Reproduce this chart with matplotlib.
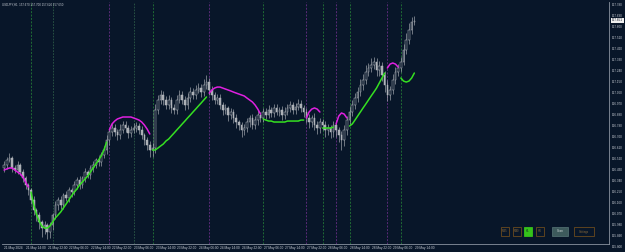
import numpy as np
import matplotlib
matplotlib.use("Agg")
import matplotlib.pyplot as plt
from matplotlib.patches import Rectangle

plt.rcParams["font.family"] = ["Liberation Sans", "DejaVu Sans"]

W, H = 625, 252
BG = "#081629"

# Hourly closes, USDJPY H1 (21 May 06:00 -> 29 May 14:00)
closes = [
    156.468, 156.509, 156.526, 156.444, 156.427, 156.468, 156.411, 156.362, 156.305, 156.264,
    156.182, 156.100, 156.059, 156.002, 155.953, 155.978, 155.920, 155.978, 156.059, 156.141,
    156.182, 156.141, 156.223, 156.198, 156.264, 156.247, 156.305, 156.346, 156.305, 156.362,
    156.411, 156.386, 156.444, 156.468, 156.509, 156.493, 156.550, 156.591, 156.673, 156.738,
    156.771, 156.738, 156.714, 156.755, 156.796, 156.771, 156.730, 156.755, 156.771, 156.787,
    156.755, 156.714, 156.673, 156.632, 156.591, 156.607, 156.918, 157.000, 157.041, 157.000,
    156.959, 157.000, 156.935, 156.918, 157.000, 157.041, 157.000, 156.959, 157.016, 157.065,
    157.041, 157.082, 157.098, 157.065, 157.123, 157.147, 157.082, 157.041, 157.000, 157.016,
    156.959, 156.918, 156.935, 156.877, 156.902, 156.853, 156.820, 156.796, 156.755, 156.771,
    156.820, 156.853, 156.796, 156.836, 156.877, 156.853, 156.902, 156.877, 156.918, 156.894,
    156.935, 156.902, 156.918, 156.877, 156.902, 156.935, 156.959, 156.918, 156.943, 156.967,
    156.935, 156.902, 156.853, 156.820, 156.853, 156.796, 156.771, 156.820, 156.796, 156.755,
    156.771, 156.738, 156.796, 156.755, 156.714, 156.673, 156.755, 156.836, 156.902, 156.959,
    157.016, 157.065, 157.123, 157.164, 157.229, 157.262, 157.286, 157.311, 157.245, 157.278,
    157.205, 157.123, 157.041, 157.082, 157.164, 157.229, 157.262, 157.311, 157.409, 157.491,
    157.573, 157.638, 157.650,
]
first_open = 156.440

# wick lengths above / below the body, in 0.001
wick_up = [
    30, 25, 40, 20, 25, 30, 20, 25, 15, 20,
    20, 30, 15, 25, 20, 30, 15, 25, 20, 30,
    25, 35, 20, 30, 25, 20, 35, 25, 30, 20,
    30, 20, 25, 35, 20, 30, 25, 30, 40, 35,
    40, 30, 25, 45, 30, 35, 25, 30, 40, 30,
    25, 30, 20, 25, 30, 40, 50, 45, 40, 35,
    30, 40, 25, 35, 45, 40, 30, 35, 40, 45,
    35, 40, 45, 30, 50, 60, 35, 30, 25, 30,
    30, 25, 35, 20, 30, 25, 30, 20, 25, 35,
    30, 25, 35, 30, 40, 25, 35, 30, 40, 25,
    30, 35, 25, 30, 40, 35, 30, 25, 35, 40,
    30, 25, 35, 30, 25, 40, 30, 35, 25, 30,
    30, 25, 35, 30, 25, 30, 40, 35, 45, 40,
    45, 40, 50, 45, 55, 40, 60, 45, 35, 40,
    35, 30, 40, 35, 45, 40, 35, 40, 50, 55,
    60, 45, 40,
]
wick_dn = [
    25, 30, 20, 35, 25, 30, 25, 30, 35, 40,
    35, 40, 45, 60, 70, 50, 55, 45, 40, 35,
    40, 30, 35, 25, 30, 40, 25, 30, 35, 25,
    30, 25, 35, 30, 25, 35, 30, 25, 30, 40,
    30, 35, 40, 30, 25, 35, 40, 30, 25, 35,
    30, 35, 40, 45, 60, 55, 40, 35, 30, 40,
    35, 30, 40, 35, 30, 25, 35, 40, 30, 35,
    30, 35, 25, 40, 30, 35, 45, 40, 35, 30,
    35, 40, 30, 45, 35, 40, 50, 45, 55, 40,
    35, 40, 30, 35, 40, 30, 35, 30, 25, 35,
    30, 25, 35, 40, 30, 25, 30, 35, 30, 25,
    35, 40, 45, 50, 40, 45, 50, 40, 45, 55,
    45, 50, 40, 55, 60, 80, 50, 40, 35, 30,
    30, 35, 30, 40, 35, 30, 35, 30, 50, 45,
    50, 60, 45, 40, 35, 30, 35, 30, 25, 30,
    35, 30, 25,
]

# trend line indicator value and state (1 = up/green, -1 = down/magenta)
trend_line = [
    156.427, 156.436, 156.444, 156.444, 156.427, 156.411, 156.395, 156.370, 156.329, 156.288,
    156.247, 156.141, 156.067, 156.010, 155.969, 155.953, 155.953, 155.969, 156.002, 156.035,
    156.059, 156.084, 156.117, 156.149, 156.182, 156.215, 156.247, 156.272, 156.305, 156.329,
    156.354, 156.378, 156.411, 156.444, 156.476, 156.509, 156.542, 156.591, 156.656, 156.755,
    156.804, 156.828, 156.845, 156.853, 156.861, 156.861, 156.861, 156.861, 156.853, 156.845,
    156.836, 156.820, 156.795, 156.763, 156.722, 156.591, 156.591, 156.607, 156.624, 156.640,
    156.665, 156.681, 156.706, 156.730, 156.755, 156.779, 156.804, 156.828, 156.853, 156.877,
    156.902, 156.926, 156.951, 156.975, 157.000, 157.025, 157.057, 157.082, 157.098, 157.106,
    157.106, 157.098, 157.090, 157.082, 157.074, 157.065, 157.057, 157.049, 157.041, 157.033,
    157.016, 157.000, 156.984, 156.959, 156.926, 156.885, 156.845, 156.836, 156.828, 156.828,
    156.820, 156.820, 156.820, 156.820, 156.820, 156.828, 156.828, 156.828, 156.828, 156.828,
    156.836, 156.836, 156.853, 156.902, 156.926, 156.935, 156.926, 156.902, 156.771, 156.771,
    156.771, 156.771, 156.779, 156.804, 156.869, 156.894, 156.885, 156.853, 156.787, 156.804,
    156.836, 156.869, 156.902, 156.935, 156.967, 157.000, 157.033, 157.065, 157.098, 157.139,
    157.180, 157.221, 157.262, 157.294, 157.303, 157.294, 157.270, 157.180, 157.155, 157.147,
    157.155, 157.180, 157.221,
]
# bar index where each trend run starts, and its direction
trend_starts = [0, 10, 39, 55, 76, 96, 112, 118, 123, 128, 142, 147]
trend_dirs = [-1, 1, -1, 1, -1, 1, -1, 1, -1, 1, -1, 1]
# extra session separators (bar index)
session_marks = [18, 48]

time_labels = [
    "21 May 2024", "21 May 14:00", "21 May 22:00", "22 May 06:00", "22 May 14:00",
    "22 May 22:00", "23 May 06:00", "23 May 14:00", "23 May 22:00", "24 May 06:00",
    "24 May 14:00", "24 May 22:00", "27 May 06:00", "27 May 14:00", "27 May 22:00",
    "28 May 06:00", "28 May 14:00", "28 May 22:00", "29 May 06:00", "29 May 14:00",
]
price_levels = [round(157.78 - 0.09 * k, 3) for k in range(23)]
last_price = 157.651
title_text = "USDJPY,H1  157.670 157.700 157.620 157.650"
buttons = ["M15", "M30", "H1", "H4"]

n = len(closes)
opens = [first_open] + closes[:-1]
highs = [max(o, c) + u / 1000 for o, c, u in zip(opens, closes, wick_up)]
lows = [min(o, c) - d / 1000 for o, c, d in zip(opens, closes, wick_dn)]

# pixel helpers for layout
def px_box(x0, y0, x1, y1):
    return [x0 / W, 1 - y1 / H, (x1 - x0) / W, (y1 - y0) / H]

fig = plt.figure(figsize=(W / 100, H / 100), dpi=100)
fig.patch.set_facecolor(BG)

ax = fig.add_axes(px_box(2, 2, 609, 244))
ax.set_facecolor(BG)
ax.set_xlim(-0.75, 224.1)
ax.set_ylim(155.822, 157.802)
for s in ax.spines.values():
    s.set_color("#8a93a0")
    s.set_linewidth(0.6)
ax.spines["top"].set_visible(False)
ax.spines["left"].set_visible(False)
ax.set_xticks([])
ax.set_yticks([])

# session markers at each trend flip
for st, d in zip(trend_starts[1:], trend_dirs[1:]):
    col = "#1f6b35" if d == 1 else "#5a2a78"
    ax.axvline(st, color=col, lw=0.7, ls=(0, (2, 1.5)), zorder=1)
for st in session_marks:
    ax.axvline(st, color="#2c5a48", lw=0.6, ls=(0, (2, 1.5)), zorder=1)

# candles
x = np.arange(n)
ax.vlines(x, lows, highs, color="#a9adb3", lw=0.45, zorder=3)
for i in range(n):
    o, c = opens[i], closes[i]
    bottom = min(o, c)
    h = max(abs(c - o), 0.004)
    fc = BG if c >= o else "#a9adb3"
    ax.add_patch(Rectangle((i - 0.3, bottom), 0.6, h, facecolor=fc,
                           edgecolor="#b9bdc3", lw=0.35, zorder=4))

# trend line coloured by direction
bounds = trend_starts + [n]
for k, d in enumerate(trend_dirs):
    col = "#35e021" if d == 1 else "#e020e0"
    seg_x = x[bounds[k]:bounds[k + 1]]
    seg_y = trend_line[bounds[k]:bounds[k + 1]]
    ax.plot(seg_x, seg_y, color=col, lw=1.1, zorder=5, solid_capstyle="round")

# price scale
for p in price_levels:
    ax.annotate(f"{p:.3f}", xy=(1.0, p), xycoords=("axes fraction", "data"),
                xytext=(2.2, 0), textcoords="offset points", fontsize=2.2,
                color="#c9ced6", va="center", ha="left", annotation_clip=False)
ax.annotate(f"{last_price:.3f}", xy=(1.0, last_price), xycoords=("axes fraction", "data"),
            xytext=(2.2, 0), textcoords="offset points", fontsize=2.2, color="#0a1020",
            va="center", ha="left", annotation_clip=False,
            bbox=dict(boxstyle="square,pad=0.2", fc="#f0f0f0", ec="none"))

# time scale
for k, lab in enumerate(time_labels):
    ax.annotate(lab, xy=(k * 8, 0), xycoords=("data", "axes fraction"),
                xytext=(0.3, -1.2), textcoords="offset points", fontsize=2.35,
                color="#c9ced6", va="top", ha="left", annotation_clip=False)

fig.text(2 / W, 1 - 5 / H, title_text, fontsize=2.1, color="#c9ced6", va="center", ha="left")

# buttons in lower right
bx = [501, 513, 524, 536]
for xb, lab in zip(bx, buttons):
    active = lab == "H1"
    fig.patches.append(Rectangle((xb / W, 1 - 236 / H), 8 / W, 9 / H, transform=fig.transFigure,
                                 facecolor="#35c21a" if active else BG,
                                 edgecolor="#35c21a" if active else "#6b4a1e", lw=0.6))
    fig.text((xb + 4) / W, 1 - 231.5 / H, lab, fontsize=2.0,
             color="#0a1020" if active else "#8a6a3a", ha="center", va="center")
fig.patches.append(Rectangle((552 / W, 1 - 236 / H), 16 / W, 9 / H, transform=fig.transFigure,
                             facecolor="#3d5a5c", edgecolor="#587678", lw=0.5))
fig.text(560 / W, 1 - 231.5 / H, "Scan", fontsize=2.2, color="#d8e0e0", ha="center", va="center")
fig.patches.append(Rectangle((574 / W, 1 - 236 / H), 20 / W, 9 / H, transform=fig.transFigure,
                             facecolor=BG, edgecolor="#6b4a1e", lw=0.6))
fig.text(584 / W, 1 - 231.5 / H, "Settings", fontsize=2.0, color="#8a6a3a", ha="center", va="center")

fig.savefig("out.png", dpi=100, facecolor=BG)
